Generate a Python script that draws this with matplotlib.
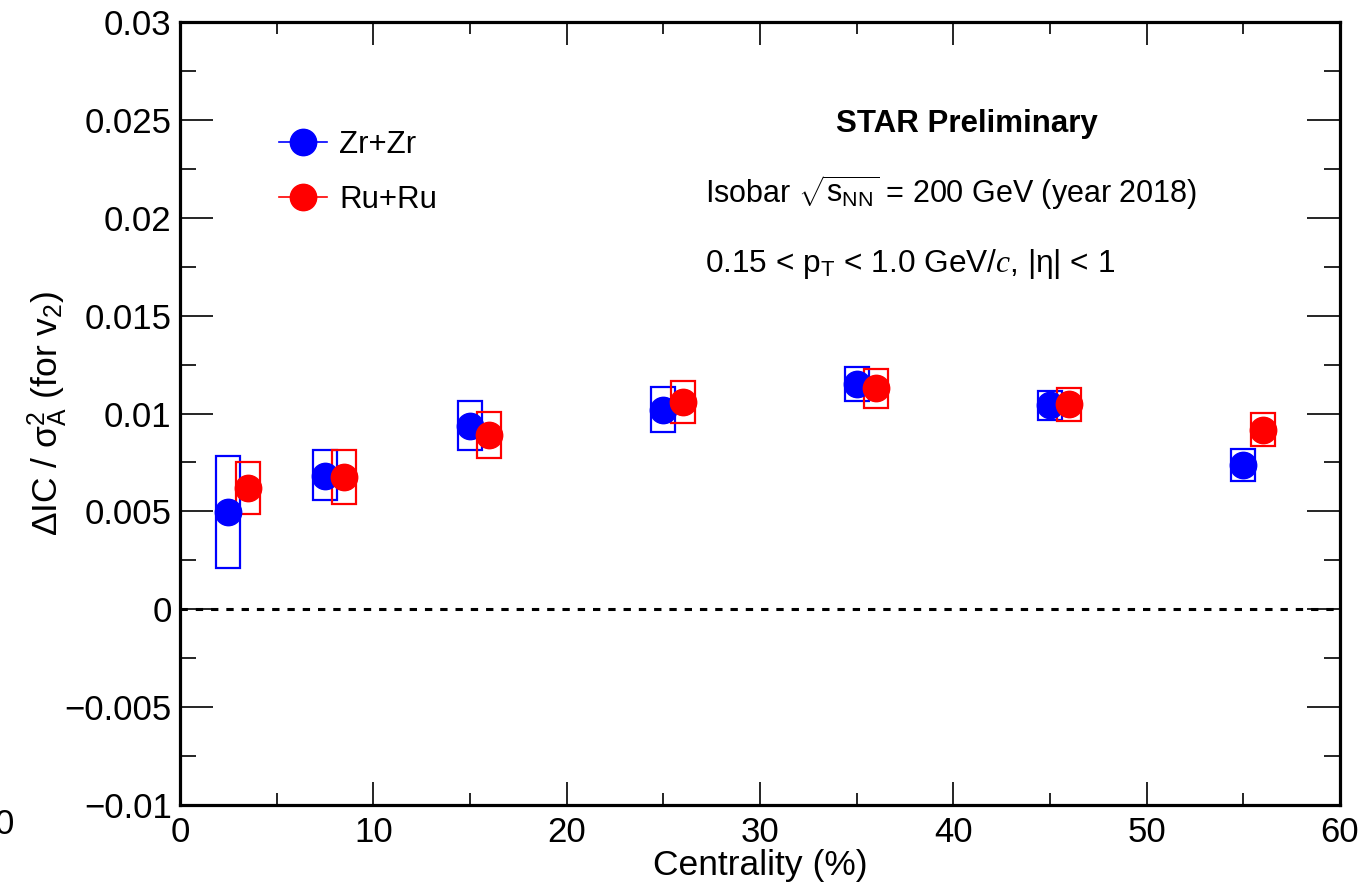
import matplotlib
matplotlib.use("Agg")
import matplotlib.pyplot as plt
from matplotlib.patches import Rectangle
from matplotlib.lines import Line2D
from matplotlib.ticker import MultipleLocator, FuncFormatter

plt.rcParams['font.family'] = ['Liberation Sans', 'DejaVu Sans']
plt.rcParams['mathtext.fontset'] = 'custom'
plt.rcParams['mathtext.rm'] = 'Liberation Sans'
plt.rcParams['mathtext.it'] = 'Liberation Serif:italic'
plt.rcParams['mathtext.bf'] = 'Liberation Sans:bold'

# ---------------- data ----------------
zr_x = [2.5, 7.5, 15, 25, 35, 45, 55]
zr_y = [0.00496, 0.00683, 0.00938, 0.0102, 0.01153, 0.01042, 0.00739]
zr_sys_lo = [0.00209, 0.00557, 0.00812, 0.00906, 0.01063, 0.00966, 0.00655]
zr_sys_hi = [0.00781, 0.00812, 0.01064, 0.01136, 0.01238, 0.01115, 0.00819]

ru_x = [3.5, 8.5, 16, 26, 36, 46, 56]
ru_y = [0.0062, 0.00676, 0.00892, 0.01057, 0.01131, 0.01046, 0.00918]
ru_sys_lo = [0.00485, 0.00536, 0.00775, 0.0095, 0.0103, 0.0096, 0.00834]
ru_sys_hi = [0.0075, 0.00814, 0.01006, 0.01166, 0.01228, 0.01129, 0.01005]

box_halfwidth = 0.62

W, H = 1362, 886
fig = plt.figure(figsize=(W / 100, H / 100), dpi=100)
ax = fig.add_axes([180 / W, 1 - 805 / H, (1340 - 180) / W, (805 - 22) / H])

ax.set_xlim(0, 60)
ax.set_ylim(-0.01, 0.03)

ax.axhline(0, color='black', lw=2.2, ls=(0, (2.4, 2.6)), zorder=1)

def draw_series(xs, ys, lo, hi, color):
    for x, y, l, h in zip(xs, ys, lo, hi):
        ax.add_patch(Rectangle((x - box_halfwidth, l), 2 * box_halfwidth, h - l,
                               fill=False, edgecolor=color, lw=1.6, zorder=2))
    ax.plot(xs, ys, ls='none', marker='o', ms=19, color=color, mec=color, zorder=3)

draw_series(zr_x, zr_y, zr_sys_lo, zr_sys_hi, 'blue')
draw_series(ru_x, ru_y, ru_sys_lo, ru_sys_hi, 'red')

# ticks
ax.xaxis.set_major_locator(MultipleLocator(10))
ax.xaxis.set_minor_locator(MultipleLocator(5))
ax.yaxis.set_major_locator(MultipleLocator(0.005))
ax.yaxis.set_minor_locator(MultipleLocator(0.0025))
ax.yaxis.set_major_formatter(FuncFormatter(lambda v, p: ('%g' % round(v, 4)).replace('-', '\u2212')))
ax.xaxis.set_major_formatter(FuncFormatter(lambda v, p: '%g' % v))
ax.tick_params(axis='both', which='both', direction='in', top=True, right=True,
               width=1.2, labelsize=25, colors='black')
ax.tick_params(axis='x', which='major', length=16.5, pad=8)
ax.tick_params(axis='x', which='minor', length=8.3)
ax.tick_params(axis='y', which='major', length=23.8, pad=6)
ax.tick_params(axis='y', which='minor', length=11.5)
for s in ax.spines.values():
    s.set_linewidth(2.3)

ax.set_xlabel('Centrality (%)', fontsize=25.5, labelpad=0)
ax.set_ylabel('$\\Delta$IC / $\\mathrm{\u03c3}_{\\rm A}^{2}$ (for v$_{2}$)', fontsize=25.5, labelpad=-4)

# legend
handles = [Line2D([], [], color='blue', marker='o', ms=19, lw=1.2),
           Line2D([], [], color='red', marker='o', ms=19, lw=1.2)]
ax.legend(handles, ['Zr+Zr', 'Ru+Ru'], loc='upper left', frameon=False,
          fontsize=22.5, handlelength=1.55, handletextpad=0.4, labelspacing=0.8,
          bbox_to_anchor=((266 - 180) / 1160, (805 - 117) / 783), borderaxespad=0)

# annotations
fig.text(967 / W, 1 - 124 / H, 'STAR Preliminary', fontsize=22.5, fontweight='bold',
         ha='center', va='center')
fig.text(705 / W, 1 - 193 / H, 'Isobar $\\sqrt{\\mathrm{s}_{\\rm NN}}$ = 200 GeV (year 2018)',
         fontsize=22, ha='left', va='center')
fig.text(705 / W, 1 - 264 / H, '0.15 < p$_{\\rm T}$ < 1.0 GeV/$c$, |\u03b7| < 1',
         fontsize=22.8, ha='left', va='center')
fig.text(14 / W, 1 - 825 / H, '0', fontsize=25, ha='right', va='center')

fig.savefig('out.png', dpi=100)
